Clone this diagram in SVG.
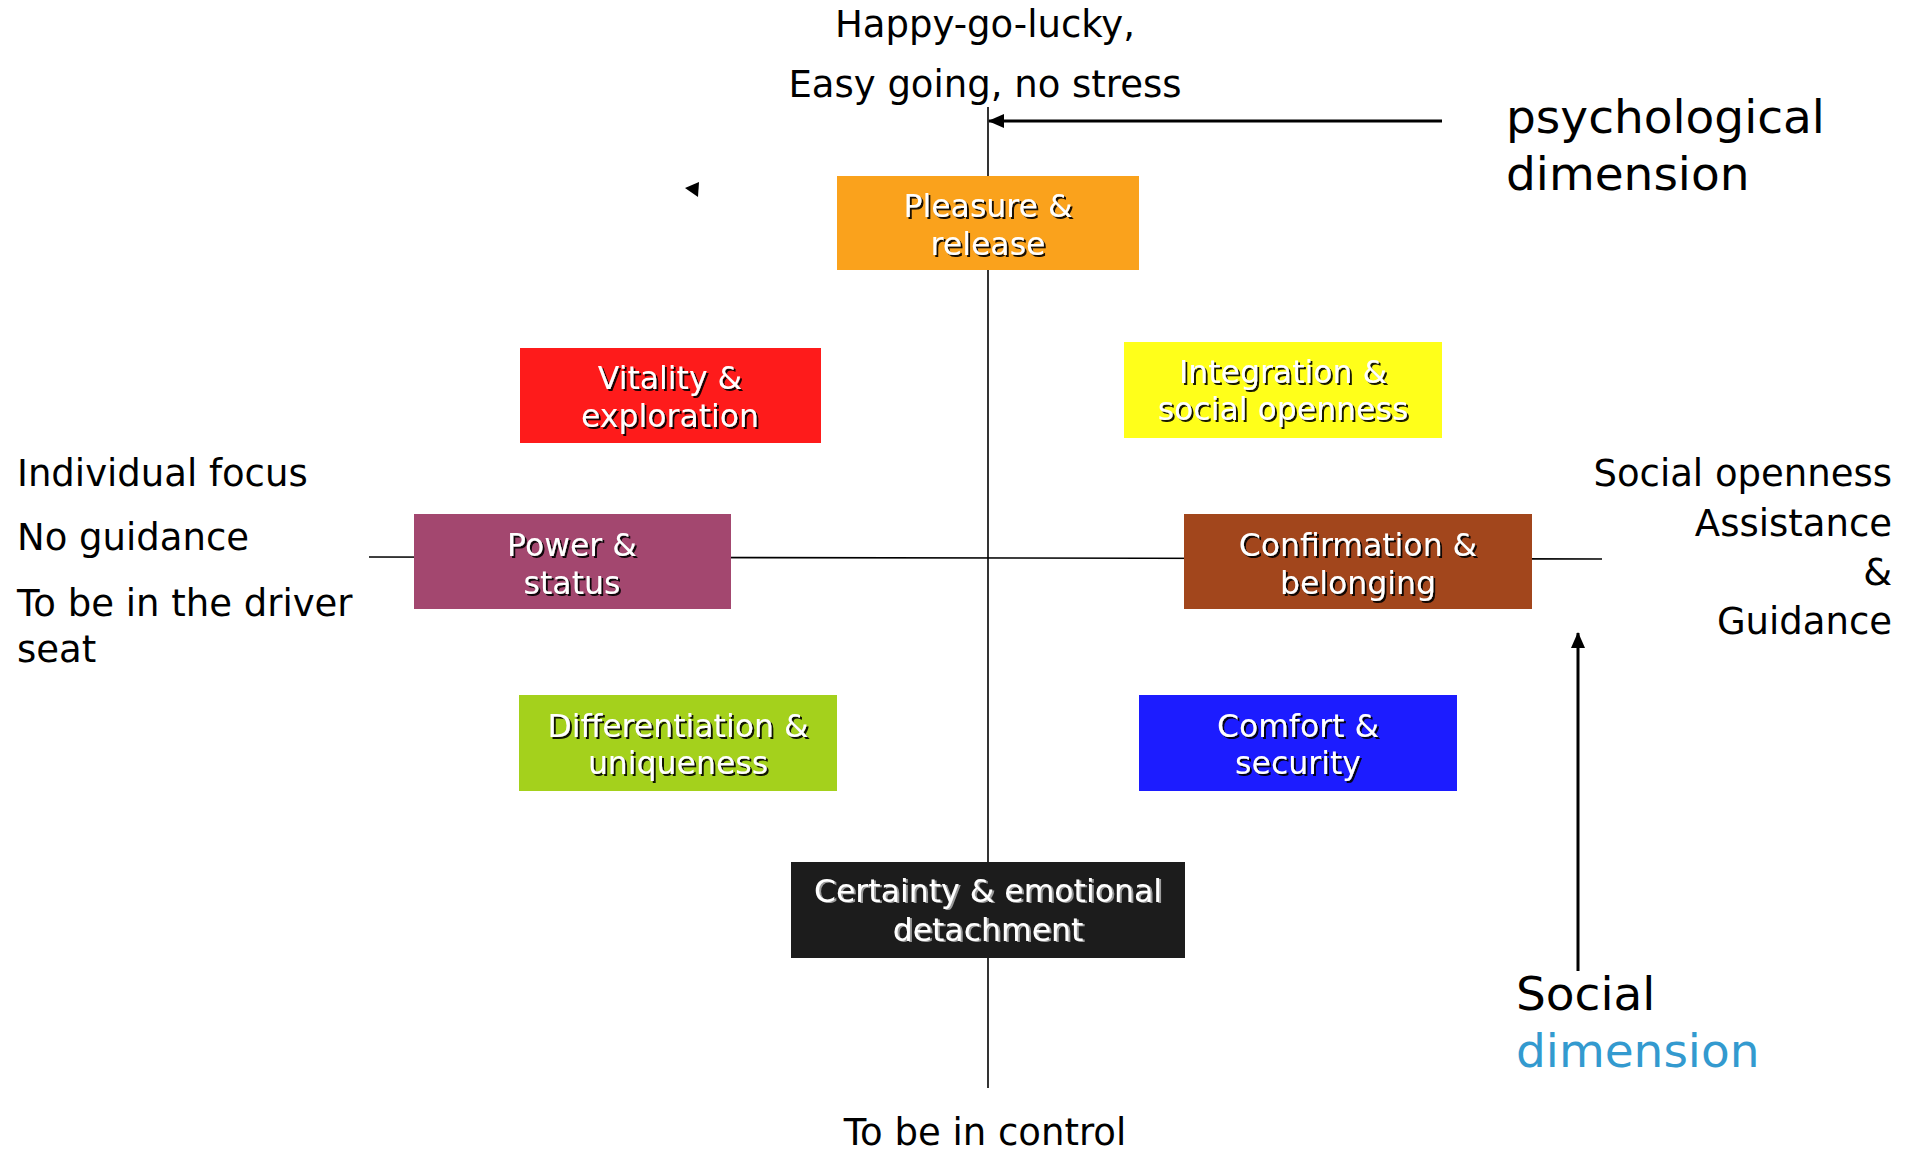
<svg xmlns="http://www.w3.org/2000/svg" width="1908" height="1152" viewBox="0 0 1908 1152">
<defs>
<marker id="ah" markerUnits="userSpaceOnUse" markerWidth="16" markerHeight="16" viewBox="0 0 16 16" refX="15" refY="8" orient="auto">
<path d="M0,1 L16,8 L0,15 Z" fill="#000"/>
</marker>
<filter id="sh" x="-10%" y="-20%" width="120%" height="150%">
<feDropShadow dx="2" dy="2" stdDeviation="0.7" flood-color="#000" flood-opacity="0.9"/>
</filter>
<filter id="shg" x="-10%" y="-20%" width="120%" height="150%">
<feDropShadow dx="2" dy="1" stdDeviation="0.7" flood-color="#9a9a9a" flood-opacity="1"/>
</filter>
</defs>
<style>
.t{font-family:"DejaVu Sans","Verdana",sans-serif;fill:#000;}
.o{font-size:37px;}
.big{font-size:47px;}
.bx{font-family:"DejaVu Sans","Verdana",sans-serif;font-size:31.5px;fill:#fff;text-anchor:middle;filter:url(#sh);}
.bxg{font-family:"DejaVu Sans","Verdana",sans-serif;font-size:31.5px;fill:#fff;text-anchor:middle;filter:url(#shg);}
.ax{stroke:#000;stroke-width:1.6;fill:none;}
.ar{stroke:#000;stroke-width:3;fill:none;marker-end:url(#ah);}
</style>
<rect width="1908" height="1152" fill="#fff"/>

<g id="connectors">
<line class="ax" x1="988" y1="107" x2="988" y2="1088"/>
<line class="ax" x1="369" y1="557" x2="1602" y2="559"/>
<line class="ar" x1="1442" y1="121" x2="989" y2="121"/>
<line class="ar" x1="1578" y1="971" x2="1578" y2="633"/>
<polygon points="685,188 699,182 698,197" fill="#000"/>
</g>

<g id="pleasure">
<rect x="837" y="176" width="302" height="94" fill="#FAA21C"/>
<text class="bx" x="988" y="217">Pleasure &amp;</text>
<text class="bx" x="988" y="255">release</text>
</g>
<g id="vitality">
<rect x="520" y="348" width="301" height="95" fill="#FE1B1B"/>
<text class="bx" x="670" y="389">Vitality &amp;</text>
<text class="bx" x="670" y="427">exploration</text>
</g>
<g id="integration">
<rect x="1124" y="342" width="318" height="96" fill="#FFFF1A"/>
<text class="bx" x="1283" y="383">Integration &amp;</text>
<text class="bx" x="1283" y="420">social openness</text>
</g>
<g id="power">
<rect x="414" y="514" width="317" height="95" fill="#A3476F"/>
<text class="bx" x="572" y="556">Power &amp;</text>
<text class="bx" x="572" y="594">status</text>
</g>
<g id="confirmation">
<rect x="1184" y="514" width="348" height="95" fill="#A2461C"/>
<text class="bx" x="1358" y="556">Confirmation &amp;</text>
<text class="bx" x="1358" y="594">belonging</text>
</g>
<g id="differentiation">
<rect x="519" y="695" width="318" height="96" fill="#A4D11C"/>
<text class="bx" x="678" y="737">Differentiation &amp;</text>
<text class="bx" x="678" y="774">uniqueness</text>
</g>
<g id="comfort">
<rect x="1139" y="695" width="318" height="96" fill="#1C1CFF"/>
<text class="bx" x="1298" y="737">Comfort &amp;</text>
<text class="bx" x="1298" y="774">security</text>
</g>
<g id="certainty">
<rect x="791" y="862" width="394" height="96" fill="#1C1C1C"/>
<text class="bxg" x="988" y="902">Certainty &amp; emotional</text>
<text class="bxg" x="988" y="941">detachment</text>
</g>

<g id="labels">
<text class="t o" x="985" y="37" text-anchor="middle">Happy-go-lucky,</text>
<text class="t o" x="985" y="97" text-anchor="middle">Easy going, no stress</text>
<text class="t big" x="1506" y="133">psychological</text>
<text class="t big" x="1506" y="190">dimension</text>
<text class="t o" x="17" y="486">Individual focus</text>
<text class="t o" x="17" y="550">No guidance</text>
<text class="t o" x="17" y="616">To be in the driver</text>
<text class="t o" x="17" y="662">seat</text>
<text class="t o" x="1892" y="486" text-anchor="end">Social openness</text>
<text class="t o" x="1892" y="536" text-anchor="end">Assistance</text>
<text class="t o" x="1892" y="585" text-anchor="end">&amp;</text>
<text class="t o" x="1892" y="634" text-anchor="end">Guidance</text>
<text class="t o" x="985" y="1145" text-anchor="middle">To be in control</text>
<text class="t big" x="1516" y="1010">Social</text>
<text class="t big" x="1516" y="1067" style="fill:#339ACF">dimension</text>
</g>
</svg>
